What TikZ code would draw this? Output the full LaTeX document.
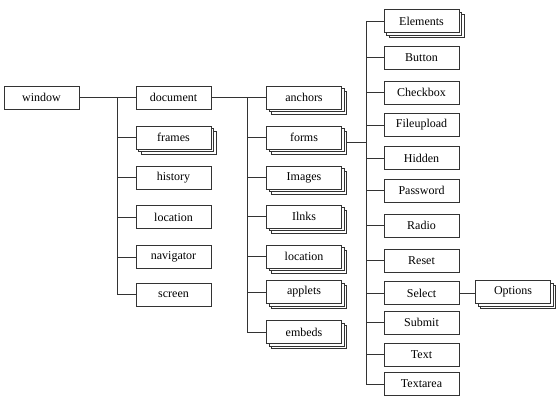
\documentclass[tikz,border=0pt]{standalone}
\usepackage{fontspec}
\setmainfont{Liberation Serif}
\usetikzlibrary{positioning, shadows}

\begin{document}
\begin{tikzpicture}[x=1pt, y=-1pt,
	obj/.style={draw=black!80, fill=white, line width=0.6pt, minimum width=75pt, minimum height=23pt, inner sep=0pt, font=\fontsize{12}{13}\selectfont},
	coll/.style={obj, double copy shadow={shadow xshift=2.5pt, shadow yshift=-2.5pt}},
	link/.style={draw=black!80, line width=0.6pt}]
	\useasboundingbox (0,0) rectangle (556,404);
	% window and its properties
	\node[obj] (window) at (41.5,97.5) {window};
	\node[obj] (document) at (173.5,97.5) {document};
	\node[coll] (frames) at (173.5,137.5) {frames};
	\node[obj] (history) at (173.5,177.5) {history};
	\node[obj] (loc2) at (173.5,217) {location};
	\node[obj] (navigator) at (173.5,257) {navigator};
	\node[obj] (screen) at (173.5,294.5) {screen};
	% document collections
	\node[coll] (anchors) at (304,97.5) {anchors};
	\node[coll] (forms) at (304,137.5) {forms};
	\node[coll] (images) at (304,177.5) {Images};
	\node[coll] (links) at (304,216.5) {Ilnks};
	\node[coll] (loc3) at (304,256.5) {location};
	\node[coll] (applets) at (304,292) {applets};
	\node[coll] (embeds) at (304,332) {embeds};
	% form elements
	\node[coll] (elements) at (421.5,21) {Elements};
	\node[obj] (button) at (421.5,57.5) {Button};
	\node[obj] (checkbox) at (421.5,92.5) {Checkbox};
	\node[obj] (fileupload) at (421.5,125) {Fileupload};
	\node[obj] (hidden) at (421.5,158) {Hidden};
	\node[obj] (password) at (421.5,190.5) {Password};
	\node[obj] (radio) at (421.5,225.5) {Radio};
	\node[obj] (reset) at (421.5,260.5) {Reset};
	\node[obj] (select) at (421.5,293) {Select};
	\node[obj] (submit) at (421.5,322.5) {Submit};
	\node[obj] (text) at (421.5,354.5) {Text};
	\node[obj] (textarea) at (421.5,384) {Textarea};
	\node[coll] (options) at (513,292) {Options};

	\coordinate (j1) at (117,97.5);
	\coordinate (j2) at (247,97.5);
	\coordinate (j3) at (366,0);
	\coordinate (fj) at ([shift={(5,5)}]forms.east);

	\draw[link] (window) -- (document);
	\draw[link] (j1) |- (screen.west);
	\foreach \n in {frames, history, loc2, navigator}
		\draw[link] (\n.west) -- (\n.west -| j1);

	\draw[link] (document) -- (anchors);
	\draw[link] (j2) |- (embeds.west);
	\foreach \n in {forms, images, links, loc3, applets}
		\draw[link] (\n.west) -- (\n.west -| j2);

	\draw[link] (fj) -- (fj -| j3);
	\draw[link] (elements.west -| j3) -- (textarea.west -| j3);
	\foreach \n in {elements, button, checkbox, fileupload, hidden, password, radio, reset, select, submit, text, textarea}
		\draw[link] (\n.west) -- (\n.west -| j3);
	\draw[link] (select.east) -- (select.east -| options.west);
\end{tikzpicture}
\end{document}
